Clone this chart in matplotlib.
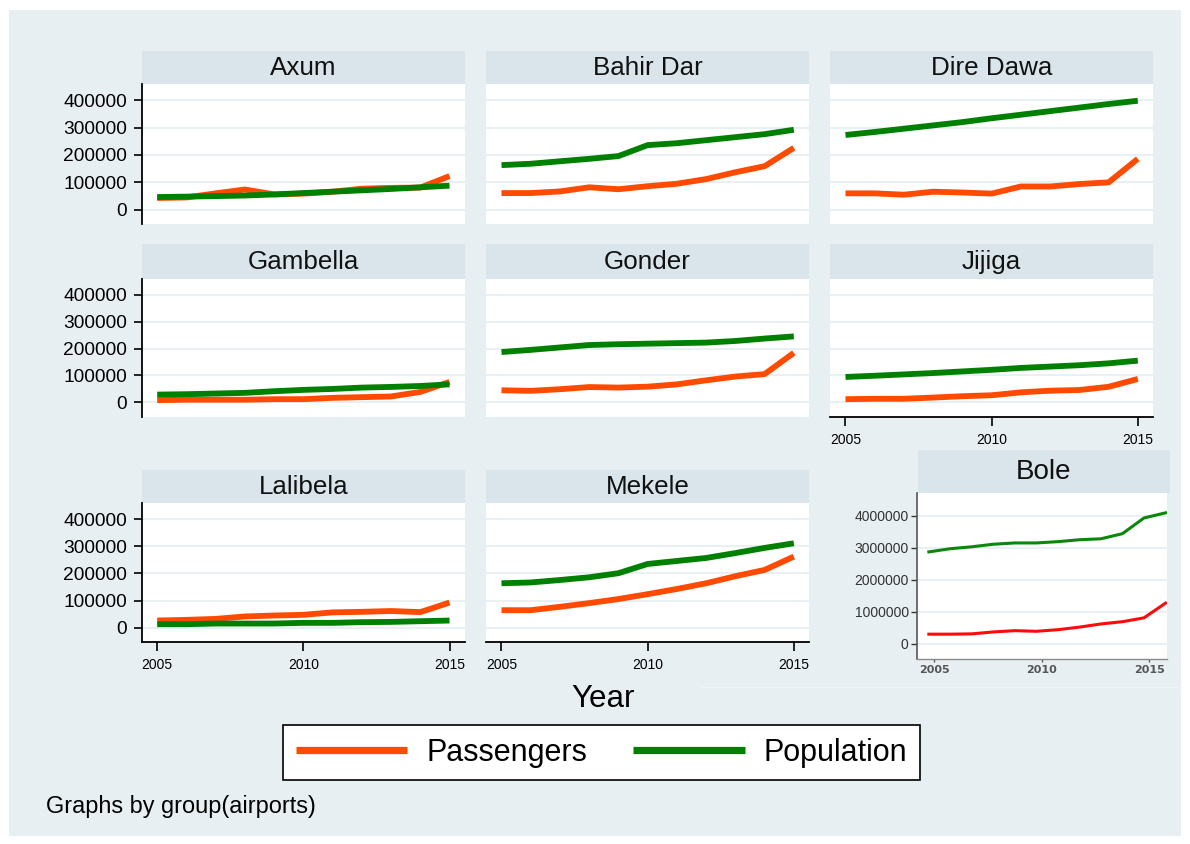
import matplotlib
matplotlib.use("Agg")
import matplotlib.pyplot as plt
from matplotlib.patches import Rectangle
from matplotlib.lines import Line2D

plt.rcParams['font.family'] = ['Liberation Sans', 'DejaVu Sans']

# ---- data ----------------------------------------------------------------
years = list(range(2005, 2016))
airports = ["Axum", "Bahir Dar", "Dire Dawa", "Gambella",
            "Gonder", "Jijiga", "Lalibela", "Mekele"]

axum_pass = [43000, 45000, 60000, 74000, 56000, 59000, 66000, 77000, 80000, 81000, 123000]
axum_pop = [46500, 48000, 50000, 52000, 56000, 61000, 66000, 71000, 76000, 82000, 88000]

bahirdar_pass = [61000, 61000, 67000, 82000, 75000, 86000, 95000, 112000, 137000, 159000, 226000]
bahirdar_pop = [163000, 168000, 177000, 186000, 196000, 236000, 243000, 254000, 265000, 276000, 292000]

diredawa_pass = [60000, 60000, 55000, 66000, 63000, 59000, 85000, 85000, 94000, 100000, 186000]
diredawa_pop = [273000, 284000, 296000, 308000, 320000, 334000, 347000, 360000, 373000, 386000, 398000]

gambella_pass = [8500, 10000, 10000, 10000, 12000, 12000, 17000, 19500, 22000, 39000, 76000]
gambella_pop = [29000, 30500, 33000, 35500, 41500, 46500, 50000, 55000, 57500, 61000, 67000]

gonder_pass = [45000, 43000, 49000, 57000, 55000, 58500, 67000, 82000, 96000, 105000, 184000]
gonder_pop = [187000, 195000, 204000, 213000, 216000, 218000, 220000, 222000, 228000, 237000, 245000]

jijiga_pass = [12000, 13500, 13500, 18000, 23000, 26500, 37500, 43500, 46000, 58000, 87000]
jijiga_pop = [94500, 99000, 104000, 109000, 115000, 121000, 128000, 133000, 138000, 145000, 155000]

lalibela_pass = [27000, 29500, 33000, 42000, 45500, 48000, 57000, 59000, 62000, 58000, 93000]
lalibela_pop = [13500, 13500, 16000, 16000, 16000, 18500, 18500, 21000, 22000, 24500, 27000]

mekele_pass = [65000, 65000, 77500, 91000, 106000, 124000, 143000, 164000, 190000, 213000, 262000]
mekele_pop = [164000, 167000, 176000, 186000, 201000, 235000, 246000, 257000, 275000, 294000, 311000]

bole_years = [2004.75, 2005.75, 2006.75, 2007.75, 2008.75, 2009.75,
              2010.75, 2011.75, 2012.75, 2013.75, 2014.75, 2015.75]
bole_pass = [300000, 300000, 310000, 370000, 410000, 390000,
             440000, 520000, 620000, 690000, 810000, 1270000]
bole_pop = [2870000, 2970000, 3030000, 3110000, 3150000, 3150000,
            3190000, 3250000, 3280000, 3440000, 3930000, 4090000]

y_ticks = [0, 100000, 200000, 300000, 400000]
bole_y_ticks = [0, 1000000, 2000000, 3000000, 4000000]
x_ticks = [2005, 2010, 2015]
legend_labels = ["Passengers", "Population"]

passengers = [axum_pass, bahirdar_pass, diredawa_pass, gambella_pass,
              gonder_pass, jijiga_pass, lalibela_pass, mekele_pass]
population = [axum_pop, bahirdar_pop, diredawa_pop, gambella_pop,
              gonder_pop, jijiga_pop, lalibela_pop, mekele_pop]

# ---- style ---------------------------------------------------------------
BG = "#e8eff2"
STRIP = "#d9e5eb"
GRID = "#e9f0f3"
ORANGE = "#ff4a00"
GREEN = "#008000"
NARROW = ["Liberation Sans Narrow", "Liberation Sans"]

W, H = 1190, 844
fig = plt.figure(figsize=(W / 100, H / 100), dpi=100, facecolor="white")


def box(x0, y0, x1, y1):
    return [x0 / W, 1 - y1 / H, (x1 - x0) / W, (y1 - y0) / H]


fig.patches.append(Rectangle((9 / W, 1 - 836 / H), (1181 - 9) / W, (836 - 10) / H,
                             transform=fig.transFigure, facecolor=BG,
                             edgecolor="none", zorder=-10))
fig.add_artist(Line2D([700 / W, 1181 / W], [1 - 687 / H, 1 - 687 / H],
                      color="#eef4f6", lw=0.8, transform=fig.transFigure))

col_x = [141.7, 486.0, 830.0]
panel_w = 323.3
rows = [(51.0, 84.3, 224.3), (244.3, 279.0, 416.7), (470.0, 503.3, 642.3)]
with_xaxis = {"Jijiga", "Lalibela", "Mekele"}


def strip(x0, y0, x1, y1, label, **kw):
    s = fig.add_axes(box(x0, y0, x1, y1))
    s.set_facecolor(STRIP)
    s.set_xticks([])
    s.set_yticks([])
    for sp in s.spines.values():
        sp.set_visible(False)
    s.text(0.5, 0.48, label, ha="center", va="center", transform=s.transAxes, **kw)
    return s


for i, name in enumerate(airports):
    r, c = divmod(i, 3)
    top, ptop, pbot = rows[r]
    x0 = col_x[c]
    x1 = x0 + panel_w
    strip(x0, top, x1, ptop, name, fontsize=18.7, color="#111111")

    ax = fig.add_axes(box(x0, ptop, x1, pbot))
    ax.set_facecolor("white")
    ax.set_xlim(2004.47, 2015.53)
    ax.set_ylim(-53000, 458000)
    for v in y_ticks:
        ax.axhline(v, color=GRID, lw=1.4, zorder=1)
    ax.plot(years, passengers[i], color=ORANGE, lw=4.2, zorder=3,
            solid_capstyle="butt", solid_joinstyle="round")
    ax.plot(years, population[i], color=GREEN, lw=4.2, zorder=4,
            solid_capstyle="butt", solid_joinstyle="round")

    for sp in ax.spines.values():
        sp.set_visible(False)

    if c == 0:
        ax.spines["left"].set_visible(True)
        ax.spines["left"].set_linewidth(1.3)
        ax.spines["left"].set_color("black")
        ax.set_yticks(y_ticks)
        ax.set_yticklabels([str(v) for v in y_ticks])
        ax.tick_params(axis="y", length=5.8, width=1.2, pad=4.6,
                       labelsize=13.8, colors="black")
    else:
        ax.set_yticks([])

    if name in with_xaxis:
        ax.spines["bottom"].set_visible(True)
        ax.spines["bottom"].set_linewidth(1.3)
        ax.spines["bottom"].set_color("black")
        ax.set_xticks(x_ticks)
        ax.set_xticklabels([str(v) for v in x_ticks])
        ax.tick_params(axis="x", length=6.5, width=1.2, pad=5,
                       labelsize=10, colors="black")
    else:
        ax.set_xticks([])

# ---- Bole panel ------------------------------------------------------------
strip(918, 450, 1170, 493, "Bole", family=NARROW, fontsize=20, color="#111111")
bx = fig.add_axes(box(917, 493, 1167, 658.5))
bx.set_facecolor("white")
bx.set_xlim(2004.2, 2015.82)
bx.set_ylim(-460000, 4710000)
for v in bole_y_ticks:
    bx.axhline(v, color=GRID, lw=1.4, zorder=1)
bx.plot(bole_years, bole_pass, color="#ff0a0a", lw=2.2, zorder=3)
bx.plot(bole_years, bole_pop, color="#0b870b", lw=2.2, zorder=4)
for sp in bx.spines.values():
    sp.set_visible(False)
bx.spines["left"].set_visible(True)
bx.spines["left"].set_color("#555555")
bx.spines["left"].set_linewidth(1.2)
bx.spines["bottom"].set_visible(True)
bx.spines["bottom"].set_color("#8a8a8a")
bx.spines["bottom"].set_linewidth(1.0)
bx.set_yticks(bole_y_ticks)
bx.set_yticklabels([str(v) for v in bole_y_ticks], family=NARROW, fontsize=10)
bx.tick_params(axis="y", length=4.5, width=1.0, pad=1.5, colors="#333333")
bx.set_xticks(x_ticks)
bx.set_xticklabels([str(v) for v in x_ticks], family=["DejaVu Sans"],
                   fontsize=8, fontweight="bold")
bx.tick_params(axis="x", length=2.5, width=1.0, pad=2.5, colors="#555555")

# ---- common labels and legend ---------------------------------------------------
fig.text(602.5 / W, 1 - 699 / H, "Year", ha="center", va="center", fontsize=22.5)

handles = [Line2D([], [], color=ORANGE, lw=5.2, solid_capstyle="butt"),
           Line2D([], [], color=GREEN, lw=5.2, solid_capstyle="butt")]
leg = fig.legend(handles, legend_labels, loc="center",
                 bbox_to_anchor=(601.5 / W, 1 - 752.5 / H), ncol=2,
                 fontsize=22, frameon=True, fancybox=False,
                 edgecolor="black", facecolor="white", framealpha=1,
                 handlelength=3.65, handletextpad=0.62, columnspacing=1.5,
                 borderpad=0.42, borderaxespad=0)
leg.get_frame().set_linewidth(1.2)

fig.text(46 / W, 1 - 806 / H, "Graphs by group(airports)", ha="left", va="center",
         fontsize=16.9)

fig.savefig("out.png", dpi=100, facecolor=fig.get_facecolor())
